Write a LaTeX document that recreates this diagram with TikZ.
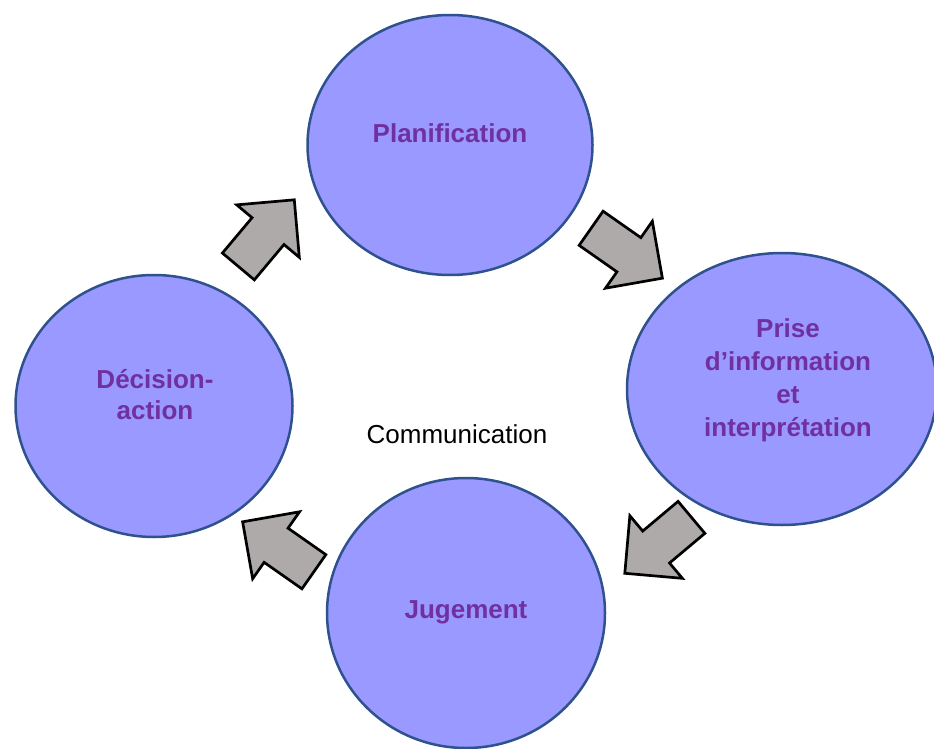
\documentclass[tikz,border=0pt]{standalone}
\usepackage{fontspec}
\setmainfont{Liberation Sans}
\usetikzlibrary{shapes.geometric,shapes.arrows}
\definecolor{bubble_blue}{RGB}{153, 153, 255}
\definecolor{edge_blue}{RGB}{47, 82, 143}
\definecolor{label_purple}{RGB}{112, 48, 160}
\definecolor{arrow_grey}{RGB}{174, 170, 170}
\tikzstyle{bubble}=[ellipse,fill=bubble_blue,draw=edge_blue,
  line width=2.5pt,inner sep=0pt]
\tikzstyle{phase}=[text=label_purple,align=center,
  font=\fontsize{26}{32}\selectfont\bfseries]
\tikzstyle{flow}=[single arrow,fill=arrow_grey,draw=black,
  line width=2.7pt,inner xsep=0pt,inner ysep=19.5pt,minimum width=0pt,
  minimum height=87pt,single arrow head extend=20pt,anchor=tail]

\begin{document}
\begin{tikzpicture}[x=1pt,y=-1pt]
    \useasboundingbox (0,0) rectangle (934,749);
    \node [style=bubble,minimum width=285pt,minimum height=260pt] (plan) at (450,145) {};
    \node [style=bubble,minimum width=310pt,minimum height=272pt] (prise) at (782,389) {};
    \node [style=bubble,minimum width=278pt,minimum height=270pt] (jug) at (466,613) {};
    \node [style=bubble,minimum width=277pt,minimum height=262pt] (dec) at (154,406) {};
    \node [style=phase] (plan_txt) at (450,133) {Planification};
    \node [style=phase,font=\fontsize{26}{33}\selectfont\bfseries] (prise_txt) at (788,380) {Prise\\d’information\\et\\interprétation};
    \node [style=phase] (jug_txt) at (466,612) {Jugement};
    \node [style=phase,font=\fontsize{26}{31}\selectfont\bfseries] (dec_txt) at (155,395) {Décision-\\action};
    \node [font=\fontsize{26}{32}\selectfont] (com) at (457,434) {Communication};
    \node [style=flow,rotate=50] (a1) at (237.5,267.5) {};
    \node [style=flow,rotate=-35] (a2) at (590,227.5) {};
    \node [style=flow,rotate=220] (a3) at (692.5,516.5) {};
    \node [style=flow,rotate=145] (a4) at (315,572.5) {};
  \end{tikzpicture}
\end{document}
